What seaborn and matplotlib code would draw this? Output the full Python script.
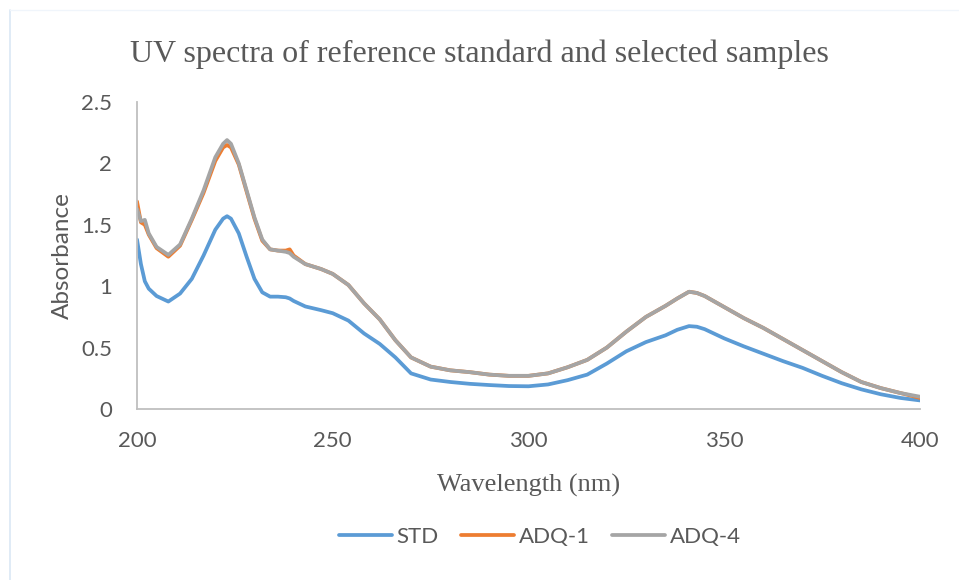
import numpy as np
import pandas as pd
import seaborn as sns
import matplotlib.pyplot as plt
from matplotlib.lines import Line2D

# wavelength grid (nm)
wavelength = [200, 201, 202, 203, 205, 208, 211, 214, 217, 220, 222, 223, 224, 226, 228, 230,
              232, 234, 236, 238, 239, 240, 243, 247, 250, 254, 258, 262, 266, 270, 275, 280,
              285, 290, 295, 300, 305, 310, 315, 320, 325, 330, 335, 338, 341, 343, 345, 350,
              355, 360, 365, 370, 375, 380, 385, 390, 395, 400]

std = [1.38, 1.18, 1.04, 0.98, 0.92, 0.875, 0.94, 1.06, 1.25, 1.46, 1.55, 1.57, 1.55, 1.43, 1.24, 1.06,
       0.95, 0.915, 0.915, 0.91, 0.90, 0.88, 0.835, 0.805, 0.78, 0.72, 0.615, 0.53, 0.42, 0.29, 0.24, 0.22,
       0.205, 0.195, 0.187, 0.185, 0.20, 0.235, 0.28, 0.37, 0.47, 0.545, 0.60, 0.645, 0.675, 0.67, 0.65, 0.575,
       0.51, 0.45, 0.39, 0.335, 0.27, 0.21, 0.16, 0.12, 0.09, 0.07]

adq1 = [1.69, 1.52, 1.50, 1.42, 1.31, 1.24, 1.33, 1.54, 1.76, 2.02, 2.13, 2.15, 2.13, 1.99, 1.77, 1.55,
        1.37, 1.30, 1.29, 1.29, 1.30, 1.25, 1.18, 1.14, 1.10, 1.01, 0.86, 0.73, 0.56, 0.42, 0.345, 0.315,
        0.30, 0.28, 0.27, 0.27, 0.29, 0.34, 0.40, 0.50, 0.63, 0.75, 0.84, 0.90, 0.955, 0.945, 0.92, 0.83,
        0.74, 0.66, 0.57, 0.48, 0.39, 0.30, 0.22, 0.17, 0.13, 0.09]

adq4 = [1.63, 1.53, 1.54, 1.43, 1.32, 1.255, 1.34, 1.55, 1.78, 2.05, 2.16, 2.19, 2.16, 2.00, 1.78, 1.56,
        1.38, 1.30, 1.29, 1.28, 1.27, 1.24, 1.18, 1.14, 1.10, 1.01, 0.86, 0.73, 0.56, 0.42, 0.345, 0.315,
        0.30, 0.28, 0.27, 0.27, 0.29, 0.34, 0.40, 0.50, 0.63, 0.75, 0.84, 0.90, 0.955, 0.945, 0.92, 0.83,
        0.74, 0.66, 0.57, 0.48, 0.39, 0.30, 0.22, 0.17, 0.13, 0.10]

series = ['STD', 'ADQ-1', 'ADQ-4']
colors = ['#5B9BD5', '#ED7D31', '#A5A5A5']
y_ticks = [0, 0.5, 1, 1.5, 2, 2.5]
y_tick_labels = ['0', '0.5', '1', '1.5', '2', '2.5']
x_ticks = [200, 250, 300, 350, 400]

df = pd.DataFrame({
    'Wavelength': wavelength * 3,
    'Absorbance': std + adq1 + adq4,
    'Sample': [s for s in series for _ in wavelength],
})

sns.set_theme(style='white')
plt.rcParams['font.family'] = ['Lato', 'DejaVu Sans']

fig = plt.figure(figsize=(9.59, 5.8), dpi=100)
ax = fig.add_axes([137 / 959, 1 - 409 / 580, 783 / 959, 307 / 580])

sns.lineplot(data=df, x='Wavelength', y='Absorbance', hue='Sample', hue_order=series,
             palette=colors, linewidth=2.7, ax=ax, legend=False, sort=False)

ax.set_xlim(200, 400)
ax.set_ylim(0, 2.5)
ax.set_xticks(x_ticks)
ax.set_yticks(y_ticks)
ax.set_yticklabels(y_tick_labels)
ax.tick_params(axis='both', length=0, labelsize=16, labelcolor='#595959')
ax.tick_params(axis='x', pad=16)
ax.tick_params(axis='y', pad=18)
for side in ['top', 'right']:
    ax.spines[side].set_visible(False)
for side in ['left', 'bottom']:
    ax.spines[side].set_color('#BFBFBF')
    ax.spines[side].set_linewidth(1.3)

ax.set_xlabel('Wavelength (nm)', family='Liberation Serif', fontsize=19, color='#595959', labelpad=16)
ax.set_ylabel('Absorbance', fontsize=17.5, color='#595959', labelpad=6)
fig.text(0.5, 0.907, 'UV spectra of reference standard and selected samples',
         family='Liberation Serif', fontsize=23, color='#595959', ha='center', va='center')

handles = [Line2D([0], [0], color=c, lw=2.7) for c in colors]
fig.legend(handles, series, loc='center', bbox_to_anchor=(0.563, 1 - 537 / 580), ncol=3,
           frameon=False, fontsize=16, labelcolor='#595959', handlelength=2.4,
           handletextpad=0.2, columnspacing=1.0)

# faint outer border of the chart area
fig.add_artist(Line2D([10 / 959, 10 / 959], [0, 1 - 10 / 580], color='#DAE7F5', lw=1.2,
                      transform=fig.transFigure))
fig.add_artist(Line2D([10 / 959, 1], [1 - 10 / 580, 1 - 10 / 580], color='#F0F5FB', lw=1.0,
                      transform=fig.transFigure))

fig.savefig('out.png', dpi=100)
